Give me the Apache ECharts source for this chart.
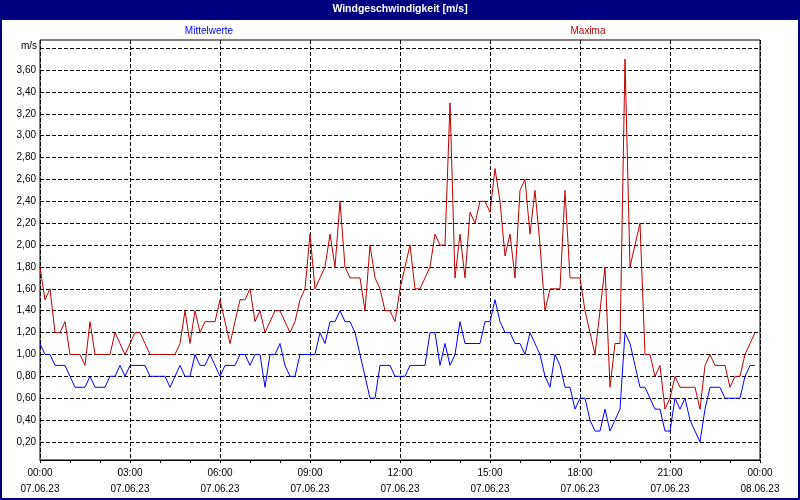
<!DOCTYPE html>
<html><head><meta charset="utf-8">
<script src="https://cdn.jsdelivr.net/npm/echarts@6/dist/echarts.min.js"></script>
<style>html,body{margin:0;padding:0;background:#fff}#c{width:800px;height:500px}</style>
</head><body><div id="c"></div>
<script>
const chartTitle = 'Windgeschwindigkeit [m/s]';
const seriesNames = ['Mittelwerte', 'Maxima'];
const unitLabel = 'm/s';
const stepMinutes = 10;

const mittelwerte = [
  1.1,1.0,1.0,0.9,0.9,0.9,0.8,0.7,0.7,0.7,0.8,0.7,
  0.7,0.7,0.8,0.8,0.9,0.8,0.9,0.9,0.9,0.9,0.8,0.8,
  0.8,0.8,0.7,0.8,0.9,0.8,0.8,1.0,0.9,0.9,1.0,0.9,
  0.8,0.9,0.9,0.9,1.0,1.0,0.9,1.0,1.0,0.7,1.0,1.0,
  1.1,0.9,0.8,0.8,1.0,1.0,1.0,1.0,1.2,1.1,1.3,1.3,
  1.4,1.3,1.3,1.2,1.0,0.8,0.6,0.6,0.9,0.9,0.9,0.8,
  0.8,0.8,0.9,0.9,0.9,0.9,1.2,1.2,0.9,1.1,0.9,1.0,
  1.3,1.1,1.1,1.1,1.1,1.3,1.3,1.5,1.3,1.2,1.2,1.1,
  1.1,1.0,1.2,1.1,1.0,0.8,0.7,1.0,0.9,0.7,0.7,0.5,
  0.6,0.6,0.4,0.3,0.3,0.5,0.3,0.4,0.5,1.2,1.1,0.9,
  0.7,0.7,0.6,0.5,0.5,0.3,0.3,0.6,0.5,0.6,0.4,0.3,
  0.2,0.5,0.7,0.7,0.7,0.6,0.6,0.6,0.6,0.8,0.9,0.9
];

const maxima = [
  1.8,1.5,1.6,1.2,1.2,1.3,1.0,1.0,1.0,0.9,1.3,1.0,
  1.0,1.0,1.0,1.2,1.1,1.0,1.1,1.2,1.2,1.1,1.0,1.0,
  1.0,1.0,1.0,1.0,1.1,1.4,1.1,1.4,1.2,1.3,1.3,1.3,
  1.5,1.3,1.1,1.3,1.5,1.5,1.6,1.3,1.4,1.2,1.3,1.4,
  1.4,1.3,1.2,1.3,1.5,1.6,2.1,1.6,1.7,1.8,2.1,1.8,
  2.4,1.8,1.7,1.7,1.7,1.4,2.0,1.7,1.6,1.4,1.4,1.3,
  1.6,1.8,2.0,1.6,1.6,1.7,1.8,2.1,2.0,2.0,3.3,1.7,
  2.1,1.7,2.3,2.2,2.4,2.4,2.3,2.7,2.4,1.9,2.1,1.7,
  2.5,2.6,2.1,2.5,2.0,1.4,1.6,1.6,1.6,2.5,1.7,1.7,
  1.7,1.4,1.2,1.0,1.4,1.8,0.7,1.1,1.1,3.7,1.8,2.0,
  2.2,1.0,1.0,0.8,0.9,0.5,0.6,0.8,0.7,0.7,0.7,0.7,
  0.5,0.9,1.0,0.9,0.9,0.9,0.7,0.8,0.8,1.0,1.1,1.2
];

const xTickTimes = ['00:00','03:00','06:00','09:00','12:00','15:00','18:00','21:00','00:00'];
const xTickDates = ['07.06.23','07.06.23','07.06.23','07.06.23','07.06.23','07.06.23','07.06.23','07.06.23','08.06.23'];
const yTicks = [0.2,0.4,0.6,0.8,1.0,1.2,1.4,1.6,1.8,2.0,2.2,2.4,2.6,2.8,3.0,3.2,3.4,3.6,3.8];
const yLabeledMax = 3.6;

const FONT = 'Liberation Sans';
const dash = [4, 2];
const toPairs = arr => arr.map((v, i) => [i * stepMinutes, v]);
const yLabel = v => (v > yLabeledMax + 1e-9) ? '' : v.toFixed(2).replace('.', ',');

const chart = echarts.init(document.getElementById('c'), null, {renderer: 'canvas'});
const option = {
  animation: false,
  backgroundColor: '#ffffff',
  textStyle: {fontFamily: FONT},
  title: {
    text: chartTitle, left: 'center', top: 4, padding: 0, z: 10,
    textStyle: {color: '#ffffff', fontSize: 10.5, fontWeight: 'bold', fontFamily: FONT}
  },
  graphic: [
    {type: 'rect', z: 0, silent: true, shape: {x: 0, y: 0, width: 800, height: 20}, style: {fill: '#000080'}},
    {type: 'rect', z: 20, silent: true, shape: {x: 1, y: 1, width: 798, height: 498}, style: {fill: 'none', stroke: '#000080', lineWidth: 2}},
    {type: 'text', z: 10, x: 209, y: 31, style: {text: seriesNames[0], fill: '#0000ff', fontSize: 10, fontFamily: FONT, align: 'center', verticalAlign: 'middle'}},
    {type: 'text', z: 10, x: 588, y: 31, style: {text: seriesNames[1], fill: '#c00000', fontSize: 10, fontFamily: FONT, align: 'center', verticalAlign: 'middle'}},
    {type: 'text', z: 10, x: 37, y: 46, style: {text: unitLabel, fill: '#000000', fontSize: 10, fontFamily: FONT, align: 'right', verticalAlign: 'middle'}}
  ],
  grid: {left: 40, right: 40, top: 40, bottom: 40, show: true, borderColor: '#000', borderWidth: 1, backgroundColor: '#fff'},
  xAxis: {
    type: 'value', min: 0, max: 1440, interval: 180,
    axisLine: {lineStyle: {color: '#000', width: 1}},
    axisTick: {length: 3, lineStyle: {color: '#000'}},
    minorTick: {show: true, splitNumber: 3, length: 3, lineStyle: {color: '#000'}},
    splitLine: {show: true, lineStyle: {color: '#000', type: dash, width: 1}},
    axisLabel: {
      margin: 5, color: '#000', fontSize: 10, lineHeight: 16, fontFamily: FONT,
      showMinLabel: true, showMaxLabel: true,
      formatter: v => { const k = Math.round(v / 180); return xTickTimes[k] + '\n' + xTickDates[k]; }
    }
  },
  yAxis: {
    type: 'value', min: 0.035, max: 3.875,
    axisLine: {show: false}, axisTick: {show: false}, axisLabel: {show: false}, splitLine: {show: false}
  },
  series: [
    {
      type: 'line', name: seriesNames[0], data: toPairs(mittelwerte),
      symbol: 'none', showSymbol: false, z: 3,
      lineStyle: {color: '#0000ff', width: 1}, itemStyle: {color: '#0000ff'},
      markLine: {
        silent: true, z: 1, symbol: ['none', 'none'], animation: false,
        lineStyle: {color: '#000', type: dash, width: 1},
        label: {show: true, position: 'start', distance: 4, color: '#000', fontSize: 10, fontFamily: FONT, formatter: p => yLabel(p.value)},
        emphasis: {disabled: true},
        data: yTicks.map(v => ({yAxis: v}))
      }
    },
    {
      type: 'line', name: seriesNames[1], data: toPairs(maxima),
      symbol: 'none', showSymbol: false, z: 4,
      lineStyle: {color: '#c00000', width: 1}, itemStyle: {color: '#c00000'}
    }
  ]
};
chart.setOption(option);
</script>
</body></html>
